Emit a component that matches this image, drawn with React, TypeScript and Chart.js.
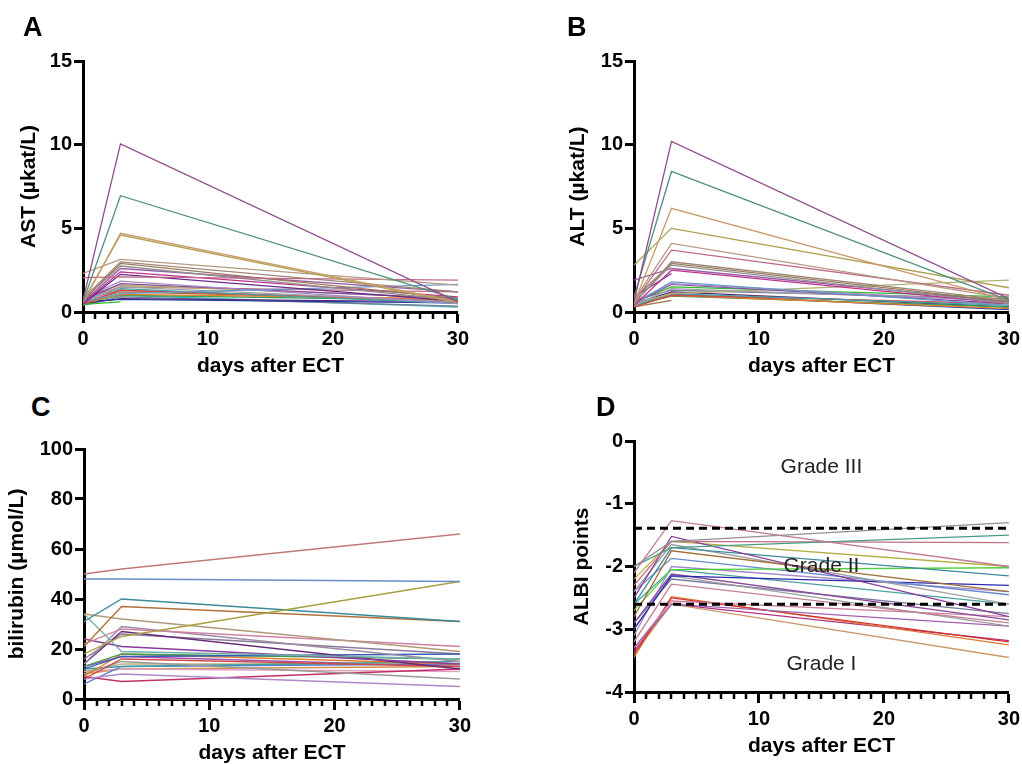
import React, { useEffect, useRef } from "react";
import { Chart, registerables } from "chart.js";

Chart.register(...registerables);

// ---------- data ----------
const days = [0, 3, 30];
const xTickValues = [0, 10, 20, 30];

// AST (µkat/L): [day 0, day 3, day 30]
const astValues: (number | null)[][] = [
  [0.7, 10.05, 0.6],
  [0.6, 6.95, 0.75],
  [0.55, 4.7, 0.6],
  [0.65, 4.6, 0.55],
  [2.3, 3.15, 1.6],
  [2.05, 2.1, 1.9],
  [0.8, 3.0, 1.2],
  [0.7, 2.9, 0.8],
  [0.75, 2.75, 0.7],
  [0.6, 2.6, 1.2],
  [0.55, 2.4, 0.9],
  [0.5, 2.25, 0.65],
  [0.6, 1.1, 1.65],
  [0.8, 1.85, 0.5],
  [0.7, 1.7, 0.8],
  [0.6, 1.5, 0.6],
  [0.9, 1.6, 0.85],
  [0.7, 1.4, 0.5],
  [0.5, 1.3, 0.65],
  [0.5, 1.05, 0.8],
  [0.6, 1.0, 0.7],
  [0.6, 1.2, 0.7],
  [0.6, 0.75, 0.55],
  [0.5, 0.8, 0.6],
  [0.45, 0.6, null],
  [0.4, 0.9, 0.35],
  [0.5, 1.0, 0.3],
  [0.7, 1.3, 0.7],
  [0.8, 1.5, 1.2],
];

// ALT (µkat/L)
const altValues: (number | null)[][] = [
  [0.6, 10.2, 0.8],
  [0.9, 8.4, 0.7],
  [0.5, 6.2, 0.7],
  [2.8, 5.0, 1.45],
  [0.7, 4.1, 0.8],
  [0.6, 3.7, 1.0],
  [0.5, 3.0, 0.7],
  [0.8, 2.9, 0.6],
  [0.6, 2.8, 0.5],
  [1.9, 2.6, 0.6],
  [0.4, 2.5, 0.5],
  [0.9, 2.3, null],
  [0.5, 1.8, 0.4],
  [0.6, 1.7, 0.6],
  [0.5, 1.65, 0.5],
  [0.4, 1.4, 0.7],
  [0.5, 1.1, 1.9],
  [0.4, 1.1, 0.4],
  [0.3, 1.0, 0.5],
  [0.5, 1.0, 0.2],
  [0.4, 0.95, 0.3],
  [0.3, 0.7, null],
  [0.4, 1.05, 0.15],
  [0.5, 1.2, 0.3],
  [0.6, 1.5, 0.9],
  [0.7, 1.3, 0.8],
];

// bilirubin (µmol/L)
const bilirubinValues: (number | null)[][] = [
  [50, 52, 66],
  [48, 48, 47],
  [18, 25, 47],
  [31, 40, 31],
  [21, 37, 31],
  [34, 32, 19],
  [34, 19, 16],
  [22, 28, 21],
  [14, 29, 15],
  [24, 21, 14],
  [14, 27, 12],
  [12, 17, 18],
  [13, 18, 16],
  [9, 18, 14],
  [8, 16, 13],
  [10, 15, 8],
  [8, 10, 5],
  [9, 7, 12],
  [12, 13, 15],
  [6, 13, 14],
  [11, 14, 14],
  [11, 12, 11],
  [10, 12, 13],
  [13, 17, 13],
  [16, 26, 18],
];

// ALBI points
const albiValues: (number | null)[][] = [
  [-2.1, -1.27, -2.0],
  [-2.0, -1.6, -1.3],
  [-2.0, -1.7, -1.5],
  [-2.3, -1.6, -1.62],
  [-2.5, -1.52, -2.8],
  [-2.2, -1.6, -2.0],
  [-2.6, -1.7, -2.15],
  [-2.8, -1.75, -2.4],
  [-2.4, -1.65, -2.6],
  [-2.7, -2.05, -2.02],
  [-2.4, -1.87, -2.45],
  [-3.0, -2.15, -2.3],
  [-2.9, -2.12, -2.85],
  [-2.6, -2.05, -2.6],
  [-3.1, -2.0, -2.4],
  [-3.2, -2.28, -2.9],
  [-3.0, -2.15, -2.95],
  [-3.3, -2.6, -2.95],
  [-3.3, -2.55, -2.8],
  [-3.4, -2.5, -3.2],
  [-3.45, -2.48, -3.25],
  [-3.4, -2.6, -3.45],
  [-3.35, -2.6, -3.18],
  [-2.9, -2.2, -2.75],
];

const albiCutoffs = [-1.39, -2.6];
const gradeLabels = ["Grade III", "Grade II", "Grade I"];
const gradeLabelY = [-0.42, -2.0, -3.55];
const gradeLabelX = 15;

const lineColors = [
  "#8c4f8c", "#4f8f7a", "#c89a6a", "#b0a050", "#b49a80", "#c06a8a",
  "#a08878", "#9a7a5a", "#909090", "#9a5aa5", "#c0308a", "#6a2a8a",
  "#6a9ac8", "#a88ac8", "#8a4aa0", "#a0a0a8", "#b0b070", "#4aa0a0",
  "#d04a4a", "#e0802a", "#3aa05a", "#a07040", "#2a3aa0", "#5a2a7a",
  "#30c030", "#7a7a90", "#40b8c0", "#e070a0", "#c07080",
];

const bilirubinColors = [
  "#c07a7a", "#6a8ac8", "#a8a040", "#3a8a9a", "#b0703a", "#b09a7a",
  "#70b0a8", "#d080a0", "#9a8aa8", "#8a3a9a", "#6a2a7a", "#3a5ab8",
  "#40a050", "#e0802a", "#d04a4a", "#9a9a9a", "#b08ac8", "#c0306a",
  "#40a0a0", "#5a7ad0", "#c0b080", "#e0a0c0", "#d09050", "#a050b0",
  "#8a7a9a",
];

const albiColors = [
  "#c07a9a", "#909090", "#4a9a8a", "#c07080", "#8a3a9a", "#b0b040",
  "#3a8a9a", "#a0703a", "#a0a0a0", "#50d040", "#6a8ad0", "#2a2ab0",
  "#8a4a9a", "#4aa0a0", "#a08ac8", "#c08090", "#9a9aa0", "#a060b0",
  "#d080a0", "#d03030", "#e07a30", "#c89a6a", "#b03080", "#7a7aa0",
];

const FONT = '"Liberation Sans", Arial, sans-serif';

// ---------- panels ----------
type PanelCfg = {
  letter: string;
  letterX: number;
  letterY: number;
  yTitle: string;
  values: (number | null)[][];
  colors: string[];
  yMin: number;
  yMax: number;
  yStep: number;
  areaLeft: number;
  areaTop: number;
  areaBottom: number;
  areaRight: number;
  yWidth: number;
  albi?: boolean;
};

const panels: PanelCfg[] = [
  { letter: "A", letterX: 23, letterY: 14, yTitle: "AST (µkat/L)", values: astValues, colors: lineColors,
    yMin: 0, yMax: 15, yStep: 5, areaLeft: 83, areaTop: 61, areaBottom: 312, areaRight: 459, yWidth: 83 },
  { letter: "B", letterX: 567, letterY: 14, yTitle: "ALT (µkat/L)", values: altValues, colors: lineColors,
    yMin: 0, yMax: 15, yStep: 5, areaLeft: 634, areaTop: 61, areaBottom: 312, areaRight: 1010, yWidth: 85 },
  { letter: "C", letterX: 31, letterY: 394, yTitle: "bilirubin (µmol/L)", values: bilirubinValues, colors: bilirubinColors,
    yMin: 0, yMax: 100, yStep: 20, areaLeft: 84, areaTop: 449, areaBottom: 699, areaRight: 461, yWidth: 96 },
  { letter: "D", letterX: 596, letterY: 394, yTitle: "ALBI points", values: albiValues, colors: albiColors,
    yMin: -4, yMax: 0, yStep: 1, areaLeft: 634, areaTop: 441, areaBottom: 692, areaRight: 1010, yWidth: 81, albi: true },
];

const PAD_TOP = 20;
const PAD_RIGHT = 14;
const X_HEIGHT = 72;

const minorTicksPlugin = {
  id: "minorTicks",
  afterDraw(chart: any) {
    const xs = chart.scales.x;
    const ctx = chart.ctx;
    ctx.save();
    ctx.strokeStyle = "#000";
    ctx.lineWidth = 2.5;
    for (let d = 0; d <= 30; d++) {
      if (d % 10 === 0) continue;
      const px = Math.round(xs.getPixelForValue(d));
      ctx.beginPath();
      ctx.moveTo(px, xs.top);
      ctx.lineTo(px, xs.top + 7);
      ctx.stroke();
    }
    ctx.restore();
  },
};

const gradePlugin = {
  id: "grades",
  afterDatasetsDraw(chart: any) {
    const cfg = chart.options.plugins.grades;
    if (!cfg || !cfg.show) return;
    const ctx = chart.ctx;
    const xs = chart.scales.x;
    const ys = chart.scales.y;
    ctx.save();
    ctx.font = `21px ${FONT}`;
    ctx.fillStyle = "#222";
    ctx.textAlign = "center";
    ctx.textBaseline = "middle";
    gradeLabels.forEach((t, i) => {
      ctx.fillText(t, xs.getPixelForValue(gradeLabelX), ys.getPixelForValue(gradeLabelY[i]));
    });
    ctx.restore();
  },
};

function Panel({ cfg }: { cfg: PanelCfg }) {
  const ref = useRef<HTMLCanvasElement>(null);
  const left = cfg.areaLeft - cfg.yWidth;
  const top = cfg.areaTop - PAD_TOP;
  const width = cfg.areaRight - left + PAD_RIGHT;
  const height = cfg.areaBottom - top + X_HEIGHT;

  useEffect(() => {
    const datasets: any[] = cfg.values.map((vals, i) => ({
      data: vals.map((v, j) => ({ x: days[j], y: v })),
      borderColor: cfg.colors[i % cfg.colors.length],
      borderWidth: 1.3,
      pointRadius: 0,
      fill: false,
      spanGaps: false,
      order: 1,
    }));
    if (cfg.albi) {
      albiCutoffs.forEach((c) => {
        datasets.push({
          data: [{ x: 0, y: c }, { x: 30, y: c }],
          borderColor: "#000",
          borderWidth: 3,
          borderDash: [8, 5],
          pointRadius: 0,
          fill: false,
          order: 0,
        });
      });
    }
    const chart = new Chart(ref.current!, {
      type: "line",
      data: { datasets },
      plugins: [minorTicksPlugin, gradePlugin],
      options: {
        responsive: false,
        animation: false,
        events: [],
        layout: { padding: { left: 0, top: PAD_TOP, right: PAD_RIGHT, bottom: 0 } },
        plugins: {
          legend: { display: false },
          tooltip: { enabled: false },
          grades: { show: !!cfg.albi },
        } as any,
        scales: {
          x: {
            type: "linear",
            min: 0,
            max: 30,
            afterBuildTicks: (scale: any) => {
              scale.ticks = xTickValues.map((v) => ({ value: v }));
            },
            afterFit: (scale: any) => {
              scale.height = X_HEIGHT;
            },
            grid: {
              display: true,
              drawOnChartArea: false,
              drawTicks: true,
              tickLength: 11,
              tickWidth: 3,
              tickColor: "#000",
            },
            border: { display: true, width: 3, color: "#000" },
            ticks: {
              color: "#000",
              padding: 4,
              maxRotation: 0,
              autoSkip: false,
              font: { family: FONT, size: 20, weight: "bold" },
            },
            title: {
              display: true,
              text: "days after ECT",
              color: "#000",
              font: { family: FONT, size: 21, weight: "bold" },
              padding: { top: 0, bottom: 5 },
            },
          },
          y: {
            type: "linear",
            min: cfg.yMin,
            max: cfg.yMax,
            afterFit: (scale: any) => {
              scale.width = cfg.yWidth;
            },
            grid: {
              display: true,
              drawOnChartArea: false,
              drawTicks: true,
              tickLength: 9,
              tickWidth: 3,
              tickColor: "#000",
            },
            border: { display: true, width: 3, color: "#000" },
            ticks: {
              stepSize: cfg.yStep,
              color: "#000",
              padding: 2,
              font: { family: FONT, size: 20, weight: "bold" },
            },
            title: {
              display: true,
              text: cfg.yTitle,
              color: "#000",
              font: { family: FONT, size: 21, weight: "bold" },
              padding: { top: 17, bottom: 0 },
            },
          },
        },
      } as any,
    });
    return () => chart.destroy();
  }, []);

  return (
    <>
      <canvas
        ref={ref}
        width={width}
        height={height}
        style={{ position: "absolute", left, top, width, height }}
      />
      <div
        style={{
          position: "absolute",
          left: cfg.letterX,
          top: cfg.letterY,
          fontFamily: FONT,
          fontWeight: "bold",
          fontSize: 27,
          lineHeight: "27px",
          color: "#000",
        }}
      >
        {cfg.letter}
      </div>
    </>
  );
}

export default function App() {
  return (
    <div
      style={{
        position: "fixed",
        left: 0,
        top: 0,
        width: 1022,
        height: 764,
        overflow: "hidden",
        background: "#fff",
      }}
    >
      {panels.map((p) => (
        <Panel key={p.letter} cfg={p} />
      ))}
    </div>
  );
}
